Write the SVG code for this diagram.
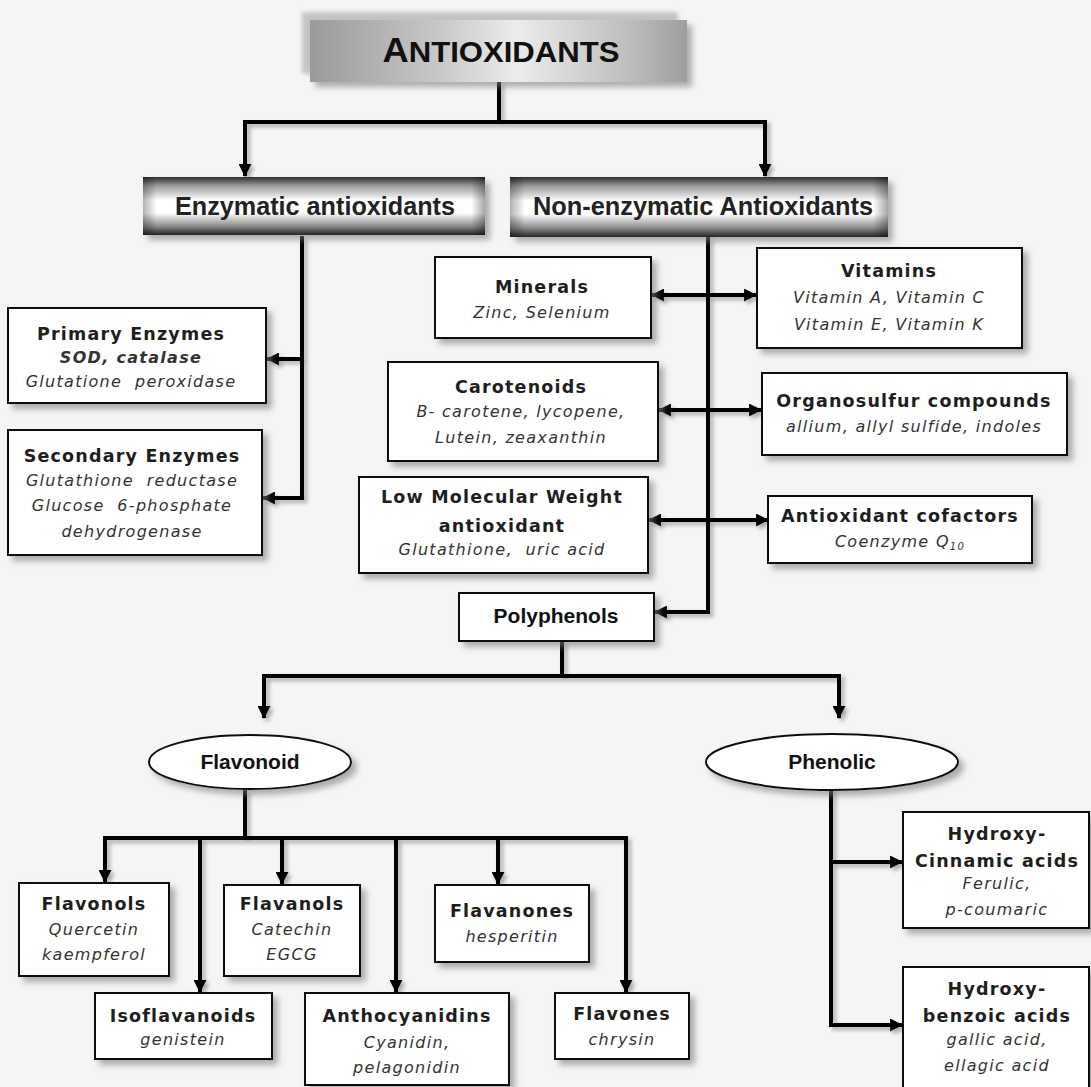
<svg xmlns="http://www.w3.org/2000/svg" width="1091" height="1087" viewBox="0 0 1091 1087">
<defs>
<style>
.box{fill:#fff;stroke:#111;stroke-width:2}
.t{font-family:"DejaVu Sans",Verdana,sans-serif;font-weight:bold;font-size:17.5px;letter-spacing:1.2px;text-anchor:middle;fill:#1e1e1e}
.s{font-family:"DejaVu Sans",Verdana,sans-serif;font-style:italic;font-size:16px;letter-spacing:1.3px;text-anchor:middle;fill:#333;white-space:pre}
.h{font-family:"Liberation Sans",Arial,sans-serif;font-weight:bold;font-size:25px;text-anchor:middle;fill:#222}
.n{font-family:"Liberation Sans Narrow","Liberation Sans",Arial,sans-serif;font-weight:bold;font-size:21px;text-anchor:middle;fill:#111}
.ln{stroke:#000;stroke-width:4;fill:none}
.ar{marker-end:url(#ah)}
.da{marker-start:url(#ah);marker-end:url(#ah)}
</style>
<marker id="ah" viewBox="0 0 12 12" refX="11" refY="6" markerWidth="13" markerHeight="13" markerUnits="userSpaceOnUse" orient="auto-start-reverse">
<path d="M0,0 L12,6 L0,12 z" fill="#000"/>
</marker>
<linearGradient id="tube" x1="0" y1="0" x2="0" y2="1">
<stop offset="0" stop-color="#2e2e2e"/>
<stop offset="0.15" stop-color="#9a9a9a"/>
<stop offset="0.4" stop-color="#ffffff"/>
<stop offset="0.62" stop-color="#ffffff"/>
<stop offset="0.85" stop-color="#8a8a8a"/>
<stop offset="1" stop-color="#242424"/>
</linearGradient>
<linearGradient id="tubeX" x1="0" y1="0" x2="1" y2="0">
<stop offset="0" stop-color="#000" stop-opacity="0.3"/>
<stop offset="0.04" stop-color="#000" stop-opacity="0"/>
<stop offset="0.96" stop-color="#000" stop-opacity="0"/>
<stop offset="1" stop-color="#000" stop-opacity="0.35"/>
</linearGradient>
<linearGradient id="ttl" x1="0" y1="0" x2="1" y2="0">
<stop offset="0" stop-color="#9a9a9a"/>
<stop offset="0.35" stop-color="#c9c9c9"/>
<stop offset="0.55" stop-color="#ececec"/>
<stop offset="0.85" stop-color="#bdbdbd"/>
<stop offset="1" stop-color="#9e9e9e"/>
</linearGradient>
<filter id="sh" x="-10%" y="-10%" width="130%" height="140%">
<feDropShadow dx="5" dy="5" stdDeviation="3" flood-color="#7a7a7a" flood-opacity="0.6"/>
</filter>
<filter id="lsh" x="-10%" y="-10%" width="130%" height="130%">
<feDropShadow dx="3" dy="3" stdDeviation="2" flood-color="#888" flood-opacity="0.7"/>
</filter>
<filter id="bl" x="-10%" y="-20%" width="120%" height="140%">
<feGaussianBlur stdDeviation="2"/>
</filter>
</defs>
<rect width="1091" height="1087" fill="#f5f5f5"/>

<g id="connectors" filter="url(#lsh)">
<path class="ln" d="M499,82 V122"/>
<path class="ln da" d="M245,176 V122 H765 V176"/>
<path class="ln ar" d="M302,236 V498 H263"/>
<path class="ln ar" d="M302,359 H267"/>
<path class="ln ar" d="M708,237 V612 H655"/>
<path class="ln da" d="M652,295 H756"/>
<path class="ln da" d="M659,410 H761"/>
<path class="ln da" d="M649,520 H768"/>
<path class="ln" d="M562,641 V676"/>
<path class="ln da" d="M264,718 V676 H839 V718"/>
<path class="ln" d="M245,789 V838"/>
<path class="ln da" d="M105,882 V838 H626 V992"/>
<path class="ln ar" d="M200,838 V992"/>
<path class="ln ar" d="M282,838 V884"/>
<path class="ln ar" d="M396,838 V992"/>
<path class="ln ar" d="M498,838 V884"/>
<path class="ln ar" d="M831,789 V1025 H902"/>
<path class="ln ar" d="M831,862 H902"/>
</g>

<g id="title">
<rect x="302" y="12" width="376" height="62" fill="#c4c4c4" filter="url(#bl)"/>
<rect x="310" y="20" width="377" height="62" fill="url(#ttl)" filter="url(#sh)"/>
<text x="501" y="62" font-family="Liberation Sans, Arial, sans-serif" font-weight="bold" font-size="30" text-anchor="middle" fill="#111" textLength="237" lengthAdjust="spacingAndGlyphs"><tspan font-size="35">A</tspan>NTIOXIDANTS</text>
</g>

<g id="enzymatic">
<rect x="143" y="177" width="342" height="58" fill="url(#tube)" filter="url(#sh)"/>
<rect x="143" y="177" width="342" height="58" fill="url(#tubeX)"/>
<text class="h" x="315" y="215" textLength="280" lengthAdjust="spacingAndGlyphs">Enzymatic antioxidants</text>
</g>
<g id="nonenzymatic">
<rect x="510" y="177" width="378" height="60" fill="url(#tube)" filter="url(#sh)"/>
<rect x="510" y="177" width="378" height="60" fill="url(#tubeX)"/>
<text class="h" x="703" y="215" textLength="340" lengthAdjust="spacingAndGlyphs">Non-enzymatic Antioxidants</text>
</g>

<g id="primary">
<rect class="box" x="8" y="308" width="258" height="95" filter="url(#sh)"/>
<text class="t" x="131" y="340">Primary Enzymes</text>
<text class="s" x="131" y="363" font-weight="bold">SOD, catalase</text>
<text class="s" x="131" y="387">Glutatione  peroxidase</text>
</g>
<g id="secondary">
<rect class="box" x="8" y="430" width="254" height="125" filter="url(#sh)"/>
<text class="t" x="132" y="462">Secondary Enzymes</text>
<text class="s" x="132" y="486">Glutathione  reductase</text>
<text class="s" x="132" y="511">Glucose  6-phosphate</text>
<text class="s" x="132" y="537">dehydrogenase</text>
</g>

<g id="minerals">
<rect class="box" x="435" y="257" width="216" height="81" filter="url(#sh)"/>
<text class="t" x="542" y="293">Minerals</text>
<text class="s" x="542" y="318">Zinc, Selenium</text>
</g>
<g id="vitamins">
<rect class="box" x="757" y="248" width="265" height="100" filter="url(#sh)"/>
<text class="t" x="889" y="277">Vitamins</text>
<text class="s" x="889" y="303">Vitamin A, Vitamin C</text>
<text class="s" x="889" y="330">Vitamin E, Vitamin K</text>
</g>
<g id="carotenoids">
<rect class="box" x="388" y="362" width="270" height="99" filter="url(#sh)"/>
<text class="t" x="521" y="393">Carotenoids</text>
<text class="s" x="521" y="417">B- carotene, lycopene,</text>
<text class="s" x="521" y="443">Lutein, zeaxanthin</text>
</g>
<g id="organosulfur">
<rect class="box" x="762" y="373" width="305" height="82" filter="url(#sh)"/>
<text class="t" x="914" y="407">Organosulfur compounds</text>
<text class="s" x="914" y="432">allium, allyl sulfide, indoles</text>
</g>
<g id="lmw">
<rect class="box" x="359" y="477" width="289" height="96" filter="url(#sh)"/>
<text class="t" x="502" y="503">Low Molecular Weight</text>
<text class="t" x="502" y="532">antioxidant</text>
<text class="s" x="502" y="555">Glutathione,  uric acid</text>
</g>
<g id="cofactors">
<rect class="box" x="768" y="496" width="264" height="67" filter="url(#sh)"/>
<text class="t" x="900" y="522">Antioxidant cofactors</text>
<text class="s" x="900" y="547">Coenzyme Q<tspan font-size="10" dy="3">10</tspan></text>
</g>

<g id="polyphenols">
<rect class="box" x="459" y="593" width="195" height="48" filter="url(#sh)"/>
<text class="n" x="556" y="623">Polyphenols</text>
</g>
<g id="flavonoid">
<ellipse cx="250" cy="762" rx="101" ry="27" fill="#fff" stroke="#111" stroke-width="2" filter="url(#sh)"/>
<text class="n" x="250" y="769" font-size="19">Flavonoid</text>
</g>
<g id="phenolic">
<ellipse cx="832" cy="762" rx="126" ry="28" fill="#fff" stroke="#111" stroke-width="2" filter="url(#sh)"/>
<text class="n" x="832" y="769" font-size="19">Phenolic</text>
</g>

<g id="flavonols">
<rect class="box" x="19" y="883" width="150" height="93" filter="url(#sh)"/>
<text class="t" x="94" y="910">Flavonols</text>
<text class="s" x="94" y="935">Quercetin</text>
<text class="s" x="94" y="960">kaempferol</text>
</g>
<g id="flavanols">
<rect class="box" x="224" y="885" width="136" height="91" filter="url(#sh)"/>
<text class="t" x="292" y="910">Flavanols</text>
<text class="s" x="292" y="935">Catechin</text>
<text class="s" x="292" y="960">EGCG</text>
</g>
<g id="flavanones">
<rect class="box" x="435" y="885" width="154" height="77" filter="url(#sh)"/>
<text class="t" x="512" y="917">Flavanones</text>
<text class="s" x="512" y="942">hesperitin</text>
</g>
<g id="isoflavanoids">
<rect class="box" x="95" y="993" width="177" height="66" filter="url(#sh)"/>
<text class="t" x="183" y="1022">Isoflavanoids</text>
<text class="s" x="183" y="1045">genistein</text>
</g>
<g id="anthocyanidins">
<rect class="box" x="305" y="993" width="204" height="92" filter="url(#sh)"/>
<text class="t" x="407" y="1022">Anthocyanidins</text>
<text class="s" x="407" y="1048">Cyanidin,</text>
<text class="s" x="407" y="1073">pelagonidin</text>
</g>
<g id="flavones">
<rect class="box" x="555" y="993" width="134" height="66" filter="url(#sh)"/>
<text class="t" x="622" y="1020">Flavones</text>
<text class="s" x="622" y="1045">chrysin</text>
</g>

<g id="hydroxycinnamic">
<rect class="box" x="903" y="812" width="186" height="116" filter="url(#sh)"/>
<text class="t" x="997" y="840">Hydroxy-</text>
<text class="t" x="997" y="867" letter-spacing="0.8">Cinnamic acids</text>
<text class="s" x="997" y="889">Ferulic,</text>
<text class="s" x="997" y="915">p-coumaric</text>
</g>
<g id="hydroxybenzoic">
<rect class="box" x="903" y="967" width="186" height="125" filter="url(#sh)"/>
<text class="t" x="997" y="995">Hydroxy-</text>
<text class="t" x="997" y="1022">benzoic acids</text>
<text class="s" x="997" y="1045">gallic acid,</text>
<text class="s" x="997" y="1071">ellagic acid</text>
</g>
</svg>
